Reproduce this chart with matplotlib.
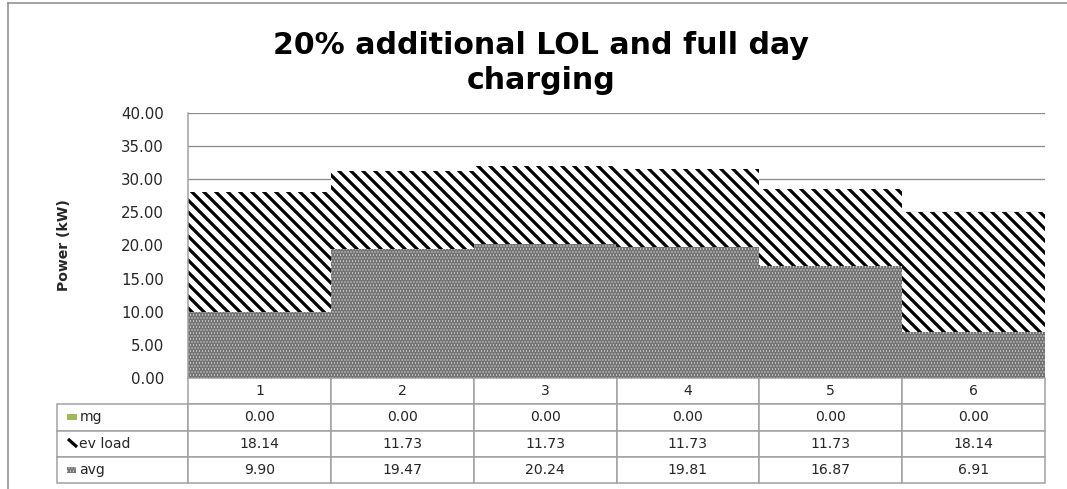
import matplotlib
matplotlib.use('Agg')
import matplotlib.pyplot as plt
from matplotlib.patches import Rectangle
from matplotlib.lines import Line2D

# Données du graphique
categories = ['1', '2', '3', '4', '5', '6']
mg = [0.00, 0.00, 0.00, 0.00, 0.00, 0.00]
ev_load = [18.14, 11.73, 11.73, 11.73, 11.73, 18.14]
avg = [9.90, 19.47, 20.24, 19.81, 16.87, 6.91]
series_names = ['mg', 'ev load', 'avg']
yticks = [0, 5, 10, 15, 20, 25, 30, 35, 40]
title_lines = ['20% additional LOL and full day', 'charging']

W, H, DPI = 1067, 489, 72
plt.rcParams['font.family'] = ['DejaVu Sans']
txt_col = '#262626'
grid_col = '#8c8c8c'
border_col = '#a0a0a0'
avg_col = '#747474'
avg_hatch = '....'

fig = plt.figure(figsize=(W / DPI, H / DPI), dpi=DPI)

# zone de tracé (en pixels de la figure)
L, R, T, B = 188, 1045, 113, 378
ax = fig.add_axes([L / W, 1 - B / H, (R - L) / W, (B - T) / H])

def ax_px(px, py):
    # pixels -> coordonnées axes
    return (px - L) / (R - L), (B - py) / (B - T)

x = list(range(len(categories)))
bottom_ev = avg
bottom_mg = [a + e for a, e in zip(avg, ev_load)]

bars_avg = ax.bar(x, avg, width=1.0, color=avg_col, edgecolor='white',
                  hatch=avg_hatch, linewidth=0, zorder=2)
bars_ev = ax.bar(x, ev_load, bottom=bottom_ev, width=1.0, color='white',
                 edgecolor='black', hatch='\\\\', linewidth=0, zorder=2)
bars_mg = ax.bar(x, mg, bottom=bottom_mg, width=1.0, color='#9bbb59',
                 linewidth=0, zorder=2)

for b in bars_ev:
    if hasattr(b, 'set_hatch_linewidth'):
        b.set_hatch_linewidth(3.2)
for b in bars_avg:
    if hasattr(b, 'set_hatch_linewidth'):
        b.set_hatch_linewidth(0.5)

ax.set_xlim(-0.5, len(categories) - 0.5)
ax.set_ylim(0, 40)
ax.set_yticks(yticks)
ax.set_yticklabels([f'{v:.2f}' for v in yticks], fontsize=15, color=txt_col)
ax.set_xticks([])
ax.tick_params(axis='y', length=0, pad=24)
ax.yaxis.grid(True, color=grid_col, linewidth=1.3)
ax.set_axisbelow(True)
for s in ['top', 'right', 'bottom']:
    ax.spines[s].set_visible(False)
ax.spines['left'].set_color(border_col)
ax.spines['left'].set_linewidth(1.5)

# tableau de données sous le graphique
label_w = (L - 57) / (R - L)
rows = [[series_names[0]] + [f'{v:.2f}' for v in mg],
        [series_names[1]] + [f'{v:.2f}' for v in ev_load],
        [series_names[2]] + [f'{v:.2f}' for v in avg]]
tb_bottom = ax_px(0, 483)[1]
tbl = ax.table(cellText=rows, colLabels=[''] + categories,
               colWidths=[label_w] + [1 / 6] * 6, cellLoc='center',
               bbox=[-label_w, tb_bottom, 1 + label_w, -tb_bottom])
tbl.auto_set_font_size(False)
tbl.set_fontsize(14)
for (r, c), cell in tbl.get_celld().items():
    cell.set_edgecolor(border_col)
    cell.set_linewidth(1.5)
    cell.get_text().set_color(txt_col)
    if c == 0:
        cell.get_text().set_ha('left')
        cell.PAD = 0.17
tbl[0, 0].visible_edges = 'open'

# symboles de légende dans le tableau
x0, y0 = ax_px(67, 420)
x1, y1 = ax_px(77, 414)
ax.add_patch(Rectangle((x0, y0), x1 - x0, y1 - y0, transform=ax.transAxes,
                       clip_on=False, zorder=5, facecolor='#9bbb59',
                       edgecolor='none'))
lx0, ly0 = ax_px(68, 439)
lx1, ly1 = ax_px(77, 447)
fig.add_artist(Line2D([lx0, lx1], [ly0, ly1], transform=ax.transAxes,
                      color='black', lw=3.2, solid_capstyle='butt', zorder=5))
x0, y0 = ax_px(67, 473)
x1, y1 = ax_px(76, 467)
p = Rectangle((x0, y0), x1 - x0, y1 - y0, transform=ax.transAxes,
              clip_on=False, zorder=5, facecolor=avg_col, edgecolor='white',
              hatch=avg_hatch, linewidth=0)
ax.add_patch(p)
if hasattr(p, 'set_hatch_linewidth'):
    p.set_hatch_linewidth(0.5)

# titre
fig.text(541 / W, 1 - 45 / H, title_lines[0], ha='center', va='center',
         fontsize=30, fontweight='bold', color='black')
fig.text(541 / W, 1 - 81 / H, title_lines[1], ha='center', va='center',
         fontsize=30, fontweight='bold', color='black')

# titre de l'axe Y
fig.text(64 / W, 1 - 245 / H, 'Power (kW)', rotation=90, ha='center',
         va='center', fontsize=14, fontweight='bold', color=txt_col)

# cadre du graphique
fig.add_artist(Line2D([8 / W, 8 / W], [0, 1 - 3 / H], color='#868686', lw=1.5))
fig.add_artist(Line2D([8 / W, 1], [1 - 3 / H, 1 - 3 / H], color='#868686', lw=1.5))

fig.savefig('out.png', dpi=DPI)
